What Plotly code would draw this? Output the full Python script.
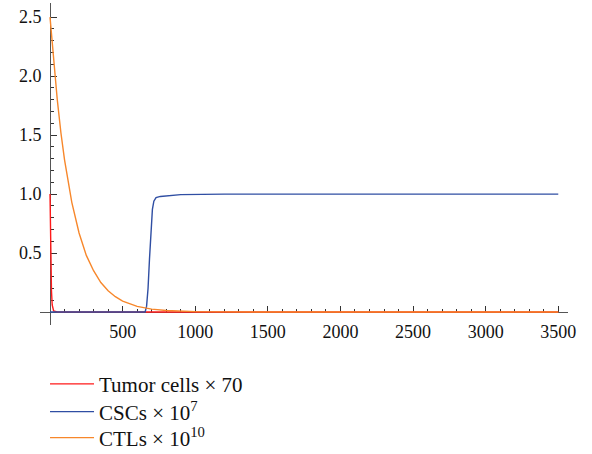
import plotly.graph_objects as go

# Tumor cells x 70
tumor_t = [0, 3, 6, 10, 15, 25, 50, 3500]
tumor_v = [1.0, 0.7, 0.4, 0.18, 0.06, 0.01, 0.0, 0.0]

# CSCs x 10^7
csc_t = [0, 655, 665, 675, 685, 695, 705, 715, 730, 760, 900, 1200, 3500]
csc_v = [0, 0, 0.05, 0.2, 0.45, 0.7, 0.87, 0.94, 0.97, 0.98, 0.995, 1.0, 1.0]

# CTLs x 10^10
ctl_t = [0, 25, 50, 75, 100, 150, 200, 250, 300, 350, 400, 450, 500, 600, 700, 800, 900, 1000, 1200, 1500, 3500]
ctl_v = [2.5, 2.12, 1.80, 1.52, 1.29, 0.93, 0.67, 0.48, 0.35, 0.25, 0.18, 0.13, 0.092, 0.048,
         0.025, 0.013, 0.007, 0.003, 0.001, 0.0, 0.0]

x_ticks = [500, 1000, 1500, 2000, 2500, 3000, 3500]
y_ticks = [0.5, 1.0, 1.5, 2.0, 2.5]
x_minor = [v for v in range(100, 3600, 100) if v % 500 != 0]
y_minor = [round(i / 10, 1) for i in range(1, 26) if i % 5 != 0]

names = ["Tumor cells × 70", "CSCs × 10<sup>7</sup>", "CTLs × 10<sup>10</sup>"]
colors = ["#ff1a1a", "#2f4ea3", "#f7872b"]
legend_ids = ["legend", "legend2", "legend3"]
legend_rows = [-0.184, -0.270, -0.351]

fig = go.Figure()
for t, v, n, c, lg in zip([tumor_t, csc_t, ctl_t], [tumor_v, csc_v, ctl_v], names, colors, legend_ids):
    fig.add_trace(go.Scatter(x=t, y=v, mode="lines", name=n, legend=lg,
                             line=dict(color=c, width=1.4)))

xr = [-69, 3567]
yr = [-0.11, 2.62]
font = dict(family="Liberation Serif", size=18, color="#111")
lfont = dict(family="Liberation Serif", size=21, color="#111")

layout_legends = {}
for lg, yy in zip(legend_ids, legend_rows):
    layout_legends[lg] = dict(x=0.0095, y=yy, xanchor="left", yanchor="middle",
                              font=lfont, bgcolor="rgba(0,0,0,0)", itemwidth=44)

fig.update_layout(
    width=592, height=454,
    margin=dict(l=40, r=24, t=3, b=129, autoexpand=False),
    plot_bgcolor="white", paper_bgcolor="white",
    font=font,
    showlegend=True,
    xaxis=dict(range=xr, anchor="free", position=(0 - yr[0]) / (yr[1] - yr[0]), automargin=False,
               showgrid=False, zeroline=False, showline=True, linecolor="#555", linewidth=1,
               layer="below traces",
               tickvals=x_ticks, ticks="inside", ticklen=6, tickcolor="#333", tickwidth=1,
               ticklabelstandoff=3,
               minor=dict(tickvals=x_minor, ticks="inside", ticklen=3, tickcolor="#333"),
               tickfont=font),
    yaxis=dict(range=yr, anchor="free", position=(0 - xr[0]) / (xr[1] - xr[0]), automargin=False,
               showgrid=False, zeroline=False, showline=True, linecolor="#555", linewidth=1,
               layer="below traces",
               tickvals=y_ticks, tickformat=".1f", ticks="inside", ticklen=6, tickcolor="#333", tickwidth=1,
               ticklabelstandoff=5,
               minor=dict(tickvals=y_minor, ticks="inside", ticklen=3, tickcolor="#333"),
               tickfont=font),
    **layout_legends,
)

fig.write_html("out.html", config={"displayModeBar": False},
               post_script="document.body.style.margin='0';document.body.style.overflow='hidden';")
